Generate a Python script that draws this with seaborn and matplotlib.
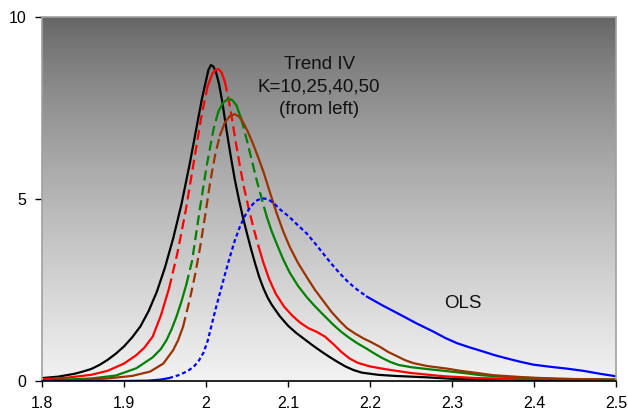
import numpy as np
import pandas as pd
import matplotlib
matplotlib.use("Agg")
import matplotlib.pyplot as plt
import seaborn as sns

# ---- data ----
black_x = [1.80, 1.82, 1.84, 1.85, 1.86, 1.87, 1.88, 1.89, 1.90, 1.91, 1.92, 1.93, 1.94, 1.95, 1.96,
           1.97, 1.98, 1.99, 1.995, 2.00, 2.003, 2.006, 2.009, 2.012, 2.016, 2.02, 2.025, 2.03, 2.035,
           2.04, 2.045, 2.05, 2.055, 2.06, 2.065, 2.07, 2.075, 2.08, 2.09, 2.10, 2.11, 2.12, 2.13,
           2.14, 2.15, 2.16, 2.17, 2.18, 2.19, 2.21, 2.23, 2.27, 2.30, 2.35, 2.40, 2.50]
black_y = [0.08, 0.12, 0.20, 0.26, 0.33, 0.44, 0.58, 0.75, 0.95, 1.20, 1.50, 1.92, 2.45, 3.12, 3.92,
           4.85, 5.95, 7.15, 7.75, 8.25, 8.55, 8.68, 8.64, 8.50, 8.15, 7.65, 6.90, 6.20, 5.55,
           5.00, 4.50, 4.05, 3.62, 3.22, 2.85, 2.55, 2.30, 2.10, 1.78, 1.52, 1.32, 1.15, 0.98,
           0.82, 0.67, 0.53, 0.40, 0.30, 0.23, 0.17, 0.14, 0.10, 0.06, 0.02, 0.0, 0.0]

red_x = [1.80, 1.83, 1.86, 1.88, 1.90, 1.915, 1.925, 1.935, 1.945, 1.955, 1.965, 1.975, 1.985, 1.995,
         2.002, 2.008, 2.012, 2.015, 2.019, 2.023, 2.027, 2.031, 2.036, 2.041, 2.046, 2.052, 2.058,
         2.064, 2.070, 2.077, 2.085, 2.095, 2.105, 2.115, 2.125, 2.135, 2.145, 2.155, 2.165, 2.175,
         2.185, 2.20, 2.22, 2.25, 2.29, 2.33, 2.40, 2.45, 2.50]
red_y = [0.05, 0.09, 0.17, 0.28, 0.48, 0.71, 0.92, 1.22, 1.80, 2.55, 3.50, 4.65, 6.00, 7.35,
         8.10, 8.45, 8.55, 8.57, 8.48, 8.22, 7.80, 7.30, 6.60, 5.95, 5.35, 4.75, 4.20,
         3.70, 3.25, 2.80, 2.40, 2.05, 1.80, 1.60, 1.45, 1.35, 1.22, 1.02, 0.80, 0.62,
         0.50, 0.40, 0.32, 0.22, 0.13, 0.08, 0.05, 0.04, 0.03]

green_x = [1.80, 1.83, 1.86, 1.89, 1.915, 1.935, 1.945, 1.952, 1.958, 1.964, 1.970, 1.976, 1.983,
           1.988, 1.993, 2.001, 2.009, 2.015, 2.021, 2.027, 2.032, 2.037, 2.043, 2.050, 2.056, 2.062,
           2.068, 2.074, 2.080, 2.086, 2.094, 2.102, 2.112, 2.123, 2.133, 2.143, 2.155, 2.165, 2.175,
           2.185, 2.195, 2.205, 2.215, 2.225, 2.235, 2.25, 2.273, 2.29, 2.314, 2.335, 2.36, 2.40,
           2.45, 2.50]
green_y = [0.02, 0.04, 0.07, 0.15, 0.35, 0.65, 0.88, 1.13, 1.42, 1.77, 2.18, 2.65, 3.30,
           4.05, 4.80, 5.93, 6.90, 7.40, 7.65, 7.75, 7.72, 7.58, 7.20, 6.60, 6.05, 5.50,
           5.00, 4.52, 4.12, 3.78, 3.35, 2.98, 2.62, 2.30, 2.05, 1.82, 1.55, 1.35, 1.18,
           1.03, 0.90, 0.76, 0.63, 0.52, 0.44, 0.38, 0.32, 0.28, 0.22, 0.16, 0.12, 0.08,
           0.05, 0.04]

brown_x = [1.80, 1.85, 1.88, 1.91, 1.932, 1.948, 1.960, 1.966, 1.972, 1.980, 1.987, 1.993, 1.999,
           2.005, 2.011, 2.017, 2.023, 2.029, 2.035, 2.040, 2.045, 2.051, 2.058, 2.064, 2.070, 2.078,
           2.086, 2.094, 2.102, 2.112, 2.123, 2.133, 2.143, 2.153, 2.163, 2.172, 2.182, 2.192, 2.202,
           2.212, 2.222, 2.233, 2.243, 2.253, 2.27, 2.294, 2.31, 2.334, 2.35, 2.37, 2.39, 2.43, 2.50]
brown_y = [0.01, 0.03, 0.07, 0.14, 0.26, 0.48, 0.85, 1.12, 1.49, 2.22, 2.95, 3.70, 4.55,
           5.45, 6.20, 6.75, 7.10, 7.28, 7.33, 7.27, 7.12, 6.85, 6.48, 6.12, 5.75, 5.18,
           4.62, 4.12, 3.69, 3.25, 2.85, 2.50, 2.20, 1.90, 1.65, 1.45, 1.30, 1.17, 1.06,
           0.94, 0.80, 0.68, 0.57, 0.49, 0.41, 0.34, 0.28, 0.21, 0.16, 0.13, 0.10, 0.06, 0.04]

ols_x = [1.80, 1.90, 1.93, 1.945, 1.955, 1.968, 1.978, 1.985, 1.991, 1.997, 2.002, 2.007, 2.012,
         2.017, 2.023, 2.029, 2.035, 2.041, 2.047, 2.054, 2.061, 2.068, 2.075, 2.082, 2.090, 2.102,
         2.112, 2.123, 2.133, 2.143, 2.153, 2.163, 2.172, 2.182, 2.196, 2.215, 2.237, 2.257, 2.277,
         2.292, 2.306, 2.322, 2.338, 2.352, 2.367, 2.383, 2.399, 2.42, 2.44, 2.46, 2.48, 2.50]
ols_y = [0.0, 0.0, 0.01, 0.04, 0.08, 0.17, 0.28, 0.39, 0.55, 0.78, 1.10, 1.55, 2.00,
         2.42, 2.92, 3.40, 3.85, 4.22, 4.52, 4.78, 4.95, 5.02, 5.00, 4.90, 4.72, 4.50,
         4.28, 4.05, 3.78, 3.50, 3.22, 2.96, 2.75, 2.55, 2.32, 2.08, 1.82, 1.58, 1.36,
         1.18, 1.04, 0.92, 0.81, 0.71, 0.62, 0.53, 0.45, 0.39, 0.34, 0.28, 0.20, 0.13]

series_names = ["K=10", "K=25", "K=40", "K=50", "OLS"]
series_x = [black_x, red_x, green_x, brown_x, ols_x]
series_y = [black_y, red_y, green_y, brown_y, ols_y]
colors = {"K=10": "#000000", "K=25": "#ff0000", "K=40": "#008000", "K=50": "#993300", "OLS": "#0000ff"}

x_ticks = [1.8, 1.9, 2.0, 2.1, 2.2, 2.3, 2.4, 2.5]
x_ticklabels = ["1.8", "1.9", "2", "2.1", "2.2", "2.3", "2.4", "2.5"]
y_ticks = [0, 5, 10]
y_ticklabels = ["0", "5", "10"]


# ---- segment styling (mimic the rendering of steep segments) ----
def seg_kind(name, x0, y0, x1, y1):
    if name == "K=10":
        return "solid"
    if name == "OLS":
        xm = 0.5 * (x0 + x1)
        return "dotted" if 1.96 <= xm <= 2.2 else "solid"
    slope = abs((y1 - y0) / (x1 - x0))
    return "dashed" if slope > 80 else "solid"


rows = []
run_id = 0
for name, xs, ys in zip(series_names, series_x, series_y):
    kinds = [seg_kind(name, xs[i], ys[i], xs[i + 1], ys[i + 1]) for i in range(len(xs) - 1)]
    start = 0
    for i in range(1, len(kinds) + 1):
        if i == len(kinds) or kinds[i] != kinds[start]:
            for j in range(start, i + 1):
                rows.append(dict(x=xs[j], y=ys[j], series=name, kind=kinds[start], run=run_id))
            run_id += 1
            start = i
df = pd.DataFrame(rows)

# ---- figure ----
sns.set_style("ticks")
plt.rcParams["font.family"] = ["Liberation Sans", "DejaVu Sans"]
plt.rcParams["lines.solid_joinstyle"] = "round"
plt.rcParams["lines.dash_joinstyle"] = "round"

fig = plt.figure(figsize=(6.28, 4.16), dpi=100)
ax = fig.add_axes([42 / 628, 35 / 416, 574 / 628, 364 / 416])

# gradient background
t = np.linspace(0, 1, 256)[:, None]   # 0 = bottom, 1 = top
vals = (100 + 142 * (1 - t) ** 0.8) / 255.0
grad = np.repeat(vals, 2, axis=1)
ax.imshow(grad, extent=(0, 1, 0, 1), transform=ax.transAxes, aspect="auto",
          cmap="gray", vmin=0, vmax=1, origin="lower", zorder=0, interpolation="bicubic")

sns.lineplot(data=df, x="x", y="y", hue="series", style="kind", units="run",
             estimator=None, sort=False, palette=colors, hue_order=series_names,
             dashes={"solid": "", "dashed": (4.5, 2.3), "dotted": (1.8, 1.3)},
             linewidth=1.6, legend=False, ax=ax, zorder=3)

ax.set_xlim(1.8, 2.5)
ax.set_ylim(0, 10)
ax.set_xticks(x_ticks)
ax.set_xticklabels(x_ticklabels)
ax.set_yticks(y_ticks)
ax.set_yticklabels(y_ticklabels)
ax.set_xlabel("")
ax.set_ylabel("")
ax.tick_params(axis="both", labelsize=11.5, colors="black", direction="out", width=1)
ax.tick_params(axis="y", length=5, pad=6)
ax.tick_params(axis="x", length=4.5, pad=6)

for side in ["left", "right", "top"]:
    ax.spines[side].set_color("#a0a0a0")
    ax.spines[side].set_linewidth(1.2)
ax.spines["bottom"].set_color("black")
ax.spines["bottom"].set_linewidth(1.2)
for s in ax.spines.values():
    s.set_visible(True)
    s.set_zorder(5)

ax.text(2.138, 8.08, "Trend IV\nK=10,25,40,50\n(from left)", ha="center", va="center",
        fontsize=13.5, color="#111111", linespacing=1.42, zorder=6)
ax.text(2.313, 2.14, "OLS", ha="center", va="center", fontsize=13.5, color="#111111", zorder=6)

fig.savefig("out.png", dpi=100)
